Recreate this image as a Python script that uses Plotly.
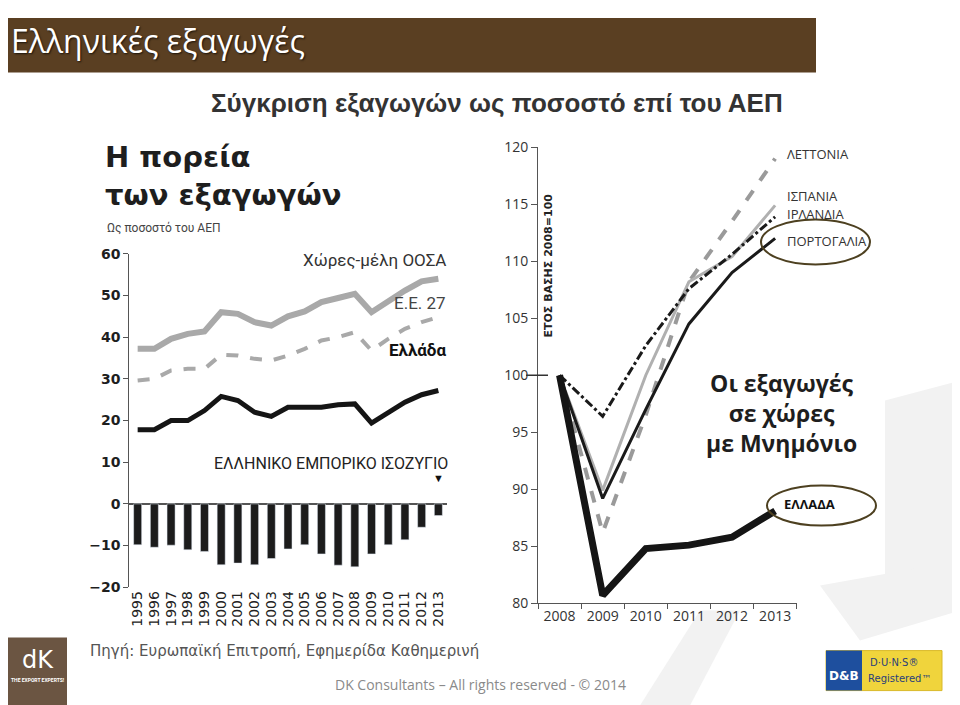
import plotly.graph_objects as go

# the page is photographed with an 8px left margin and a slight vertical squeeze,
# so the figure is laid out in "photo" pixels and mapped back here
W, H = 952, 707
OFF_X = 8
OFF_Y, SQ = 17.5, 0.973

# Left chart: exports as % of GDP, 1995-2013
years_left = ["1995", "1996", "1997", "1998", "1999", "2000", "2001", "2002", "2003", "2004",
              "2005", "2006", "2007", "2008", "2009", "2010", "2011", "2012", "2013"]
oecd = [37.2, 37.2, 39.6, 40.8, 41.4, 46.0, 45.6, 43.6, 42.8, 45.0,
        46.2, 48.4, 49.4, 50.4, 46.0, 48.8, 51.2, 53.4, 54.0]
eu27 = [29.6, 30.0, 32.0, 32.4, 32.4, 35.8, 35.6, 34.8, 34.4, 35.6,
        37.2, 39.2, 40.0, 41.2, 36.8, 39.6, 42.0, 43.6, 44.8]
greece_gdp = [17.8, 17.8, 20.0, 20.0, 22.4, 25.8, 24.8, 22.0, 21.0, 23.2,
              23.2, 23.2, 23.8, 24.0, 19.4, 22.0, 24.4, 26.2, 27.2]
trade_balance = [-9.8, -10.4, -9.9, -11.0, -11.4, -14.6, -14.2, -14.6, -13.1, -10.8,
                 -9.8, -12.0, -14.7, -15.1, -12.0, -9.8, -8.6, -5.6, -2.8]
left_ticks = [-20, -10, 0, 10, 20, 30, 40, 50, 60]

# Right chart: exports index, 2008 = 100
years_right = ["2008", "2009", "2010", "2011", "2012", "2013"]
latvia = [100, 86.2, 96.5, 108.2, 113.5, 119.0]
spain = [100, 89.9, 100.0, 108.2, 110.4, 114.9]
ireland = [100, 96.4, 102.6, 107.6, 110.6, 113.9]
portugal = [100, 89.2, 97.0, 104.5, 109.0, 112.0]
greece_idx = [100, 80.7, 84.8, 85.1, 85.8, 88.1]
right_ticks = [80, 85, 90, 95, 100, 105, 110, 115, 120]


def px(x):
    return (x - OFF_X) / W


def py(y):
    return 1 - max((y - OFF_Y) / SQ, 0) / H


fig = go.Figure()

# Trade balance bars
fig.add_trace(go.Bar(x=years_left, y=trade_balance, marker_color="#1c1c1c",
                     xaxis="x", yaxis="y", showlegend=False))
# OECD / EU27 / Greece lines
fig.add_trace(go.Scatter(x=years_left, y=oecd, mode="lines",
                         line=dict(color="#a9a9a9", width=6),
                         xaxis="x", yaxis="y", showlegend=False))
fig.add_trace(go.Scatter(x=years_left, y=eu27, mode="lines",
                         line=dict(color="#a9a9a9", width=4, dash="dash"),
                         xaxis="x", yaxis="y", showlegend=False))
fig.add_trace(go.Scatter(x=years_left, y=greece_gdp, mode="lines",
                         line=dict(color="#151515", width=5),
                         xaxis="x", yaxis="y", showlegend=False))

# Right chart lines
fig.add_trace(go.Scatter(x=years_right, y=latvia, mode="lines",
                         line=dict(color="#9a9a9a", width=4, dash="dash"),
                         xaxis="x2", yaxis="y2", showlegend=False))
fig.add_trace(go.Scatter(x=years_right, y=spain, mode="lines",
                         line=dict(color="#b0b0b0", width=3),
                         xaxis="x2", yaxis="y2", showlegend=False))
fig.add_trace(go.Scatter(x=years_right, y=ireland, mode="lines",
                         line=dict(color="#1a1a1a", width=3, dash="dashdot"),
                         xaxis="x2", yaxis="y2", showlegend=False))
fig.add_trace(go.Scatter(x=years_right, y=portugal, mode="lines",
                         line=dict(color="#1a1a1a", width=3),
                         xaxis="x2", yaxis="y2", showlegend=False))
fig.add_trace(go.Scatter(x=years_right, y=greece_idx, mode="lines",
                         line=dict(color="#151515", width=7),
                         xaxis="x2", yaxis="y2", showlegend=False))

shapes = []
# faint watermark shapes
wm = "#f2f2f2"
for pts in [
    [(885, 400), (960, 380), (960, 560), (885, 600)],
    [(820, 585), (960, 560), (960, 610), (860, 640)],
    [(640, 705), (700, 610), (740, 610), (690, 705)],
]:
    path = "M " + " L ".join(f"{px(a)},{py(b)}" for a, b in pts) + " Z"
    shapes.append(dict(type="path", xref="paper", yref="paper", path=path,
                       fillcolor=wm, line=dict(width=0), layer="below"))

# header bar
shapes.append(dict(type="rect", xref="paper", yref="paper",
                   x0=px(0), x1=px(816), y0=py(72), y1=py(5),
                   fillcolor="#5a3f22", line=dict(width=0), layer="below"))
# DK logo box
shapes.append(dict(type="rect", xref="paper", yref="paper",
                   x0=px(8), x1=px(67), y0=py(705), y1=py(637),
                   fillcolor="#6b5542", line=dict(width=0)))
# D&B logo
shapes.append(dict(type="rect", xref="paper", yref="paper",
                   x0=px(826), x1=px(942), y0=py(690), y1=py(650),
                   fillcolor="#f0d43c", line=dict(color="#d9b92a", width=1)))
shapes.append(dict(type="rect", xref="paper", yref="paper",
                   x0=px(826), x1=px(862), y0=py(690), y1=py(650),
                   fillcolor="#1e4f9e", line=dict(width=0)))
# long tick at 100 on the right chart
shapes.append(dict(type="line", xref="paper", yref="y2",
                   x0=px(526), x1=px(548), y0=100, y1=100,
                   line=dict(color="#333", width=1.5)))
# ellipses
for x0, x1, y0, y1 in [(761, 870, 219, 264), (767, 876, 485, 525)]:
    shapes.append(dict(type="circle", xref="paper", yref="paper",
                       x0=px(x0), x1=px(x1), y0=py(y1), y1=py(y0),
                       line=dict(color="#4d4020", width=2)))

ann = []


def text(x, y, s, size, color="#222", bold=False, xanchor="left", family="Roboto",
         angle=0, align=None, **kw):
    ann.append(dict(x=px(x), y=py(y), xref="paper", yref="paper", text=s,
                    showarrow=False, xanchor=xanchor, yanchor="middle",
                    textangle=angle, align=align or xanchor,
                    font=dict(size=size, color=color, family=family,
                              weight="bold" if bold else "normal", **kw)))


text(9, 40, "Ελληνικές εξαγωγές", 32, "#ffffff", family="Open Sans",
     shadow="1px 1px 2px rgba(0,0,0,0.7)")
text(497, 102, "Σύγκριση εξαγωγών ως ποσοστό επί του ΑΕΠ", 26, "#333",
     bold=True, xanchor="center", family="Liberation Sans")

text(103, 175, "Η πορεία<br>των εξαγωγών", 29, "#1e1e1e", bold=True,
     family="DejaVu Sans")
text(105, 227, "Ως ποσοστό του ΑΕΠ", 12, "#444")
text(448, 259, "Χώρες-μέλη ΟΟΣΑ", 17, "#333", xanchor="right")
text(448, 302, "Ε.Ε. 27", 17, "#444", xanchor="right")
text(448, 349, "Ελλάδα", 17, "#111", bold=True, xanchor="right")
text(450, 463, "ΕΛΛΗΝΙΚΟ ΕΜΠΟΡΙΚΟ ΙΣΟΖΥΓΙΟ", 16, "#222", xanchor="right")
text(438, 478, "▼", 11, "#111", xanchor="center")

text(549, 265, "ΕΤΟΣ ΒΑΣΗΣ 2008=100", 11, "#222", bold=True, xanchor="center",
     family="DejaVu Sans", angle=-90)
text(781, 412, "Οι εξαγωγές<br>σε χώρες<br>με Μνημόνιο", 23, "#1e1e1e", bold=True,
     xanchor="center", family="Open Sans")
text(785, 153, "ΛΕΤΤΟΝΙΑ", 13, "#333", family="Open Sans")
text(785, 195, "ΙΣΠΑΝΙΑ", 13, "#333", family="Open Sans")
text(785, 213, "ΙΡΛΑΝΔΙΑ", 13, "#333", family="Open Sans")
text(785, 240, "ΠΟΡΤΟΓΑΛΙΑ", 13, "#333", family="Open Sans")
text(782, 503, "ΕΛΛΑΔΑ", 13, "#111", bold=True, family="Open Sans")

text(88, 650, "Πηγή: Ευρωπαϊκή Επιτροπή, Εφημερίδα Καθημερινή", 15, "#555",
     family="DejaVu Sans")
text(480, 684, "DK Consultants – All rights reserved - © 2014", 14, "#8a8a8a",
     xanchor="center", family="Open Sans")

# logos text
text(38, 659, "dK", 24, "#ffffff", xanchor="center", family="DejaVu Sans")
text(38, 679, "THE EXPORT EXPERTS!", 5, "#ffffff", bold=True, xanchor="center")
text(844, 675, "D&B", 12, "#ffffff", bold=True, xanchor="center", family="DejaVu Sans")
text(868, 662, "D·U·N·S®", 10, "#2a3f7a", family="DejaVu Sans")
text(866, 678, "Registered™", 10, "#2a3f7a", family="DejaVu Sans")

axis_col = "#555"
fig.update_layout(
    width=W, height=H,
    margin=dict(l=0, r=0, t=0, b=0),
    paper_bgcolor="white", plot_bgcolor="rgba(0,0,0,0)",
    bargap=0.52,
    xaxis=dict(domain=[px(129.3), px(446.7)], anchor="y", type="category",
               range=[-0.5, 18.5], tickangle=-90, ticks="", showline=False,
               showgrid=False, zeroline=False,
               tickmode="array", tickvals=years_left, ticktext=years_left,
               tickfont=dict(size=14, color="#222", family="DejaVu Sans")),
    yaxis=dict(domain=[py(586.7), py(253.3)], anchor="x", range=[-20, 60],
               tickvals=left_ticks, showgrid=False, showline=True,
               linecolor=axis_col, linewidth=1.2, ticks="outside", ticklen=5,
               tickcolor=axis_col, zeroline=True, zerolinecolor=axis_col,
               zerolinewidth=1.5,
               tickfont=dict(size=14, color="#1e1e1e", family="DejaVu Sans",
                             weight="bold")),
    xaxis2=dict(domain=[px(538), px(796.7)], anchor="y2", type="category",
                range=[-0.5, 5.5], tickson="boundaries", ticks="outside",
                ticklen=5, tickcolor=axis_col, showline=True, linecolor=axis_col,
                showgrid=False, zeroline=False,
                tickfont=dict(size=14, color="#333", family="Open Sans")),
    yaxis2=dict(domain=[py(602.7), py(146.7)], anchor="x2", range=[80, 120],
                tickvals=right_ticks, showgrid=False, showline=True,
                linecolor=axis_col, ticks="outside", ticklen=6,
                tickcolor=axis_col, zeroline=False,
                tickfont=dict(size=14, color="#333", family="Open Sans")),
    shapes=shapes,
    annotations=ann,
)

fig.write_html("out.html")
